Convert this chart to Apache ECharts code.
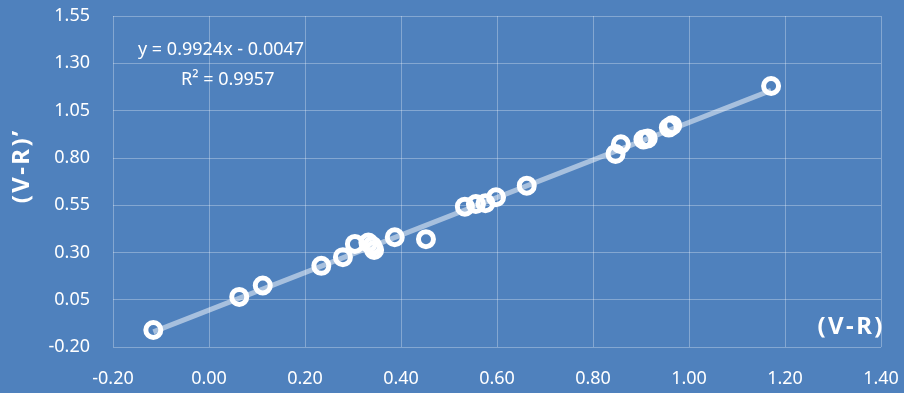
<!DOCTYPE html>
<html>
<head>
<meta charset="utf-8">
<script src="https://cdn.jsdelivr.net/npm/echarts@6/dist/echarts.min.js"></script>
<style>
  html, body { margin: 0; padding: 0; background: #4f81bd; }
  #chart { width: 904px; height: 393px; }
</style>
</head>
<body>
<div id="chart"></div>
<script>
// (V-R) vs (V-R)' measurements
const vr = [-0.116, 0.063, 0.112, 0.234, 0.279, 0.304, 0.332, 0.340, 0.344, 0.387, 0.452,
  0.533, 0.556, 0.576, 0.598, 0.662, 0.847, 0.858, 0.905, 0.914, 0.958, 0.965, 1.171]
const vrPrime = [-0.110, 0.065, 0.125, 0.229, 0.275, 0.345, 0.352, 0.335, 0.313, 0.380, 0.370,
  0.542, 0.556, 0.560, 0.592, 0.653, 0.821, 0.872, 0.897, 0.903, 0.960, 0.972, 1.180]

// linear trend line end points
const trendX = [-0.116, 1.171]
const trendY = [-0.120, 1.157]

const yTicks = [-0.2, 0.05, 0.3, 0.55, 0.8, 1.05, 1.3, 1.55]

const equationText = 'y = 0.9924x - 0.0047'
const r2Text = 'R² = 0.9957'
// hair spaces give the wide letter spacing of the axis titles
const xName = '(\u200aV\u200a-\u200aR\u200a)'
const yName = '(\u200aV\u200a-\u200aR\u200a)\u200a’'

const font = 'Noto Sans'
const gridColor = 'rgba(255, 255, 255, 0.3)'

const chart = echarts.init(document.getElementById('chart'))

chart.setOption({
  backgroundColor: '#4f81bd',
  animation: false,
  textStyle: { fontFamily: font, color: '#fff' },
  grid: { left: 113, right: 23, top: 16, bottom: 46 },
  xAxis: {
    type: 'value',
    min: -0.2,
    max: 1.4,
    interval: 0.2,
    axisLine: { show: false },
    axisTick: { show: false },
    axisLabel: {
      color: '#fff',
      fontSize: 18,
      fontFamily: font,
      margin: 23,
      formatter: (v) => v.toFixed(2)
    },
    splitLine: { lineStyle: { color: gridColor, width: 1 } }
  },
  yAxis: {
    type: 'value',
    min: -0.2,
    max: 1.55,
    axisLine: { show: false },
    axisTick: { show: false, customValues: yTicks },
    axisLabel: {
      color: '#fff',
      fontSize: 18,
      fontFamily: font,
      margin: 23,
      customValues: yTicks,
      formatter: (v) => v.toFixed(2)
    },
    splitLine: { lineStyle: { color: gridColor, width: 1 } }
  },
  graphic: [
    {
      type: 'text',
      left: 138,
      top: 41,
      style: { text: equationText, fill: '#fff', font: '18px "Noto Sans"' }
    },
    {
      type: 'text',
      left: 181,
      top: 71,
      style: { text: r2Text, fill: '#fff', font: '18px "Noto Sans"' }
    },
    {
      type: 'text',
      x: 850,
      y: 327,
      style: {
        text: xName, fill: '#fff', font: 'bold 24px "Noto Sans"',
        align: 'center', verticalAlign: 'middle'
      }
    },
    {
      type: 'text',
      x: 22,
      y: 167,
      rotation: Math.PI / 2,
      style: {
        text: yName, fill: '#fff', font: 'bold 24px "Noto Sans"',
        align: 'center', verticalAlign: 'middle'
      }
    }
  ],
  series: [
    {
      type: 'line',
      data: trendX.map((x, i) => [x, trendY[i]]),
      symbol: 'none',
      lineStyle: { color: 'rgba(255, 255, 255, 0.5)', width: 5 },
      z: 1
    },
    {
      type: 'scatter',
      data: vr.map((x, i) => [x, vrPrime[i]]),
      symbol: 'circle',
      symbolSize: 15,
      itemStyle: { color: 'transparent', borderColor: '#fff', borderWidth: 5, opacity: 1 },
      z: 2
    }
  ]
})
</script>
</body>
</html>
